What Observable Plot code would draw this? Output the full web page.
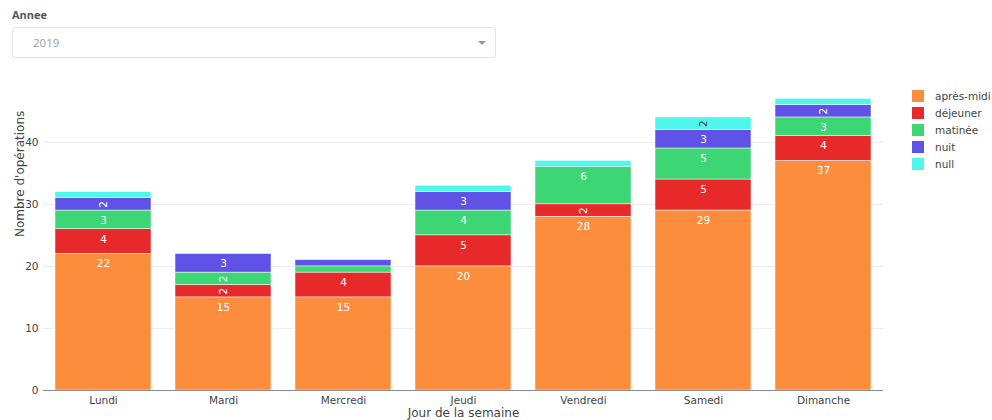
<!DOCTYPE html>
<html lang="fr">
<head>
<meta charset="utf-8">
<script src="https://cdn.jsdelivr.net/npm/d3@7"></script>
<script src="https://cdn.jsdelivr.net/npm/@observablehq/plot@0.6"></script>
<style>
  html, body { margin: 0; padding: 0; background: #fff; width: 992px; height: 420px; overflow: hidden; }
  body { position: relative; font-family: "Open Sans", "DejaVu Sans", sans-serif; }
  #annee-label { position: absolute; left: 12px; top: 7px; font-size: 11px; font-weight: 700; color: #555; }
  #annee-select { position: absolute; left: 12px; top: 27px; width: 482px; height: 29px;
    border: 1px solid #e3e3e3; border-radius: 3px; box-sizing: content-box; }
  #annee-select .val { position: absolute; left: 20px; top: 7px; font-size: 11.5px; color: #a0a0a0; }
  #annee-select .arrow { position: absolute; right: 9px; top: 13px; width: 0; height: 0;
    border-left: 4px solid transparent; border-right: 4px solid transparent; border-top: 4px solid #999; }
  #chart { position: absolute; left: 0; top: 70px; }
  #legend { position: absolute; left: 912px; top: 87px; font-family: "DejaVu Sans", sans-serif; font-size: 10.5px; color: #444; }
  #legend .item { height: 17px; display: flex; align-items: center; }
  #legend .sw { width: 12px; height: 12px; margin-right: 11px; }
</style>
</head>
<body>
<div id="annee-label">Annee</div>
<div id="annee-select"><span class="val">2019</span><span class="arrow"></span></div>
<div id="chart"></div>
<div id="legend"></div>
<script>
// Jours de la semaine et périodes de la journée
const jours = ["Lundi", "Mardi", "Mercredi", "Jeudi", "Vendredi", "Samedi", "Dimanche"];
const periodes = ["après-midi", "déjeuner", "matinée", "nuit", "null"];
const couleurs = ["#fb8d3d", "#e8292a", "#3cd774", "#6052e6", "#50f6ec"];

// Nombre d'opérations par jour, une liste par période
const apresMidi = [22, 15, 15, 20, 28, 29, 37];
const dejeuner  = [4, 2, 4, 5, 2, 5, 4];
const matinee   = [3, 2, 1, 4, 6, 5, 3];
const nuit      = [2, 3, 1, 3, 0, 3, 2];
const nulle     = [1, 0, 0, 1, 1, 2, 1];

const yTicks = [0, 10, 20, 30, 40];
const yMax = 49.47;

const series = [apresMidi, dejeuner, matinee, nuit, nulle];
const data = [];
periodes.forEach((p, i) => {
  jours.forEach((j, k) => {
    const v = series[i][k];
    if (v > 0) data.push({ jour: j, periode: p, valeur: v });
  });
});

const font = "DejaVu Sans, sans-serif";
const stackOpts = { x: "jour", y: "valeur", z: "periode", order: periodes };
const labelFill = d => d.periode === "null" ? "#444" : "#fff";

const chart = Plot.plot({
  width: 992,
  height: 350,
  marginTop: 13,
  marginBottom: 30,
  marginLeft: 43,
  marginRight: 109,
  style: { fontFamily: font, fontSize: "10.5px", color: "#444", background: "#fff" },
  x: { domain: jours, paddingInner: 0.2, paddingOuter: 0.1, label: null, tickSize: 0, tickPadding: 6 },
  y: { domain: [0, yMax], ticks: yTicks, label: null, tickSize: 0, tickPadding: 5 },
  color: { domain: periodes, range: couleurs },
  marks: [
    Plot.gridY(yTicks, { stroke: "#ebebeb", strokeOpacity: 1 }),
    Plot.barY(data, Plot.stackY({ ...stackOpts, fill: "periode", stroke: "#fff", strokeWidth: 0.5 })),
    // libellés horizontaux, en haut des segments assez hauts
    Plot.text(data, Plot.stackY2({
      ...stackOpts, text: d => d.valeur >= 3 ? String(d.valeur) : "", dy: 10,
      fill: labelFill, fontSize: 10.5
    })),
    // libellés pivotés, au centre des segments étroits
    Plot.text(data, Plot.stackY({
      ...stackOpts, text: d => d.valeur === 2 ? String(d.valeur) : "", rotate: -90,
      fill: labelFill, fontSize: 10.5
    })),
    Plot.ruleY([0], { stroke: "#8a8a8a" }),
    Plot.text(["Nombre d'opérations"], { frameAnchor: "left", dx: -23, rotate: -90, fontSize: 12, fill: "#444" }),
    Plot.text(["Jour de la semaine"], { frameAnchor: "bottom", lineAnchor: "middle", dy: 23, fontSize: 12, fill: "#444" })
  ]
});
document.getElementById("chart").appendChild(chart);

// Légende
const legend = document.getElementById("legend");
periodes.forEach((p, i) => {
  const item = document.createElement("div");
  item.className = "item";
  const sw = document.createElement("span");
  sw.className = "sw";
  sw.style.background = couleurs[i];
  const lab = document.createElement("span");
  lab.textContent = p;
  item.appendChild(sw);
  item.appendChild(lab);
  legend.appendChild(item);
});
</script>
</body>
</html>
